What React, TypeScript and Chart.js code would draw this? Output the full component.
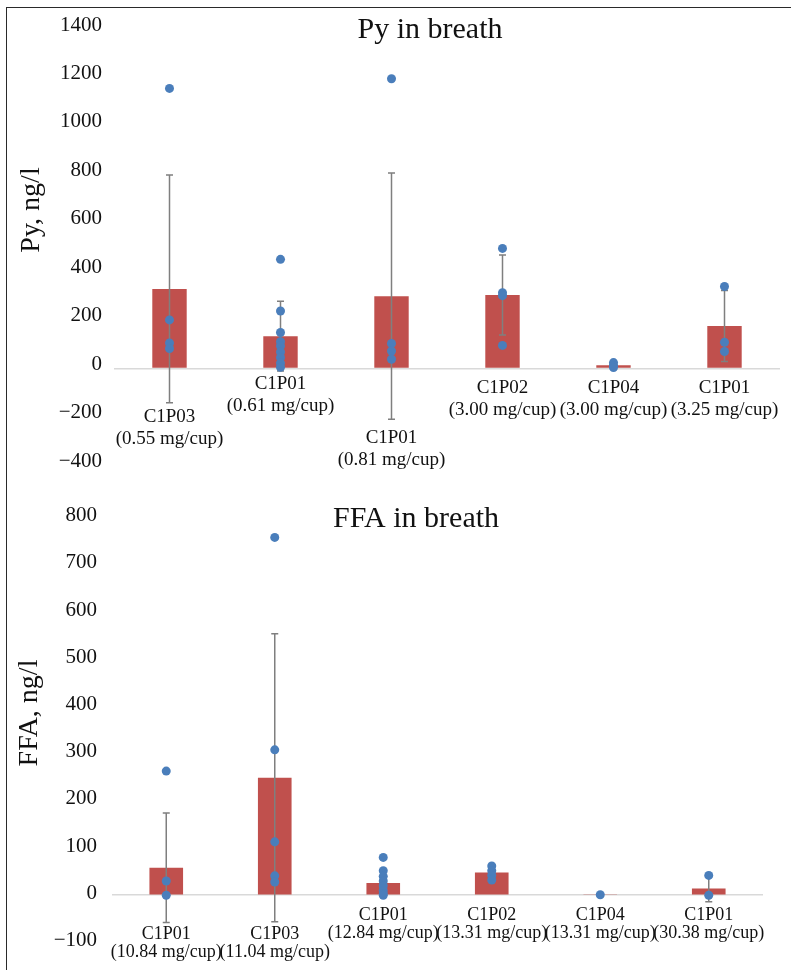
import React, { useEffect, useRef } from "react";
import { Chart, registerables } from "chart.js";

Chart.register(...registerables);

// ---------- data ----------
const pyCodes = ["C1P03", "C1P01", "C1P01", "C1P02", "C1P04", "C1P01"];
const pyDoses = ["(0.55 mg/cup)", "(0.61 mg/cup)", "(0.81 mg/cup)", "(3.00 mg/cup)", "(3.00 mg/cup)", "(3.25 mg/cup)"];
const pyMeans = [328, 133, 298, 303, 13, 175];
const pySd = [470, 144, 508, 165, 10, 146];
const pyPoints = [
  [1155, 200, 105, 82],
  [450, 237, 148, 110, 92, 68, 45, 22, 5],
  [1195, 103, 72, 38],
  [495, 312, 300, 95],
  [24, 12, 4],
  [338, 108, 70],
];
const pyTicks = { min: -400, max: 1400, step: 200 };

const ffaCodes = ["C1P01", "C1P03", "C1P01", "C1P02", "C1P04", "C1P01"];
const ffaDoses = ["(10.84 mg/cup)", "(11.04 mg/cup)", "(12.84 mg/cup)", "(13.31 mg/cup)", "(13.31 mg/cup)", "(30.38 mg/cup)"];
const ffaMeans = [58, 249, 26, 48, 1, 14];
const ffaSd = [116, 305, 25, 15, 1, 28];
const ffaPoints = [
  [263, 30, 0],
  [758, 308, 113, 41, 28],
  [80, 52, 40, 30, 20, 10, 3, 0],
  [62, 52, 42, 32],
  [1],
  [42, 0],
];
const ffaTicks = { min: -100, max: 800, step: 100 };

// ---------- styles ----------
const FONT = '"Liberation Serif", "DejaVu Serif", "Times New Roman", serif';
const TEXT = "#111111";
const BAR = "#C0504D";
const DOT = "#4A7EBB";
const ERR = "#7f7f7f";
const ZERO = "#d9d9d9";

type PanelCfg = {
  codes: string[];
  doses: string[];
  means: number[];
  sd: number[];
  points: number[][];
  ticks: { min: number; max: number; step: number };
  title: string;
  yTitle: string;
  height: number;
  padTop: number;
  padBottom: number;
  padRight: number;
  axisWidth: number;
  tickPad: number;
  tickShift: number;
  titleX: number;
  titleY: number;
  yTitleX: number;
  yTitleY: number;
  labelOffsets: number[];
  labelFont: number;
  labelLine: number;
};

function makeOverlay(cfg: PanelCfg) {
  return {
    id: "overlay",
    afterDatasetDraw(chart: any, args: any) {
      if (args.index !== 0) return;
      const ctx = chart.ctx;
      const y = chart.scales.y;
      const meta = args.meta;
      ctx.save();
      ctx.strokeStyle = ERR;
      ctx.lineWidth = 1.5;
      cfg.sd.forEach((s, i) => {
        const m = cfg.means[i];
        const x = meta.data[i].x;
        const yt = y.getPixelForValue(m + s);
        const yb = y.getPixelForValue(m - s);
        ctx.beginPath();
        ctx.moveTo(x, yt);
        ctx.lineTo(x, yb);
        ctx.moveTo(x - 3.5, yt);
        ctx.lineTo(x + 3.5, yt);
        ctx.moveTo(x - 3.5, yb);
        ctx.lineTo(x + 3.5, yb);
        ctx.stroke();
      });
      ctx.restore();
    },
    afterDraw(chart: any) {
      const ctx = chart.ctx;
      const xs = chart.scales.x;
      const ys = chart.scales.y;
      ctx.save();
      ctx.fillStyle = TEXT;
      ctx.font = `30px ${FONT}`;
      ctx.textAlign = "center";
      ctx.textBaseline = "alphabetic";
      ctx.fillText(cfg.title, cfg.titleX, cfg.titleY);
      ctx.save();
      ctx.translate(cfg.yTitleX, cfg.yTitleY);
      ctx.rotate(-Math.PI / 2);
      ctx.font = `28px ${FONT}`;
      ctx.textBaseline = "middle";
      ctx.fillText(cfg.yTitle, 0, 0);
      ctx.restore();
      const y0 = ys.getPixelForValue(0);
      ctx.font = `${cfg.labelFont}px ${FONT}`;
      ctx.textBaseline = "middle";
      ctx.textAlign = "center";
      cfg.codes.forEach((c, i) => {
        const x = xs.getPixelForValue(i);
        const ly = y0 + cfg.labelOffsets[i];
        ctx.fillText(c, x, ly);
        ctx.fillText(cfg.doses[i], x, ly + cfg.labelLine);
      });
      ctx.restore();
    },
  };
}

function Panel({ cfg }: { cfg: PanelCfg }) {
  const ref = useRef<HTMLCanvasElement | null>(null);
  useEffect(() => {
    if (!ref.current) return;
    const labels = cfg.codes.map((c, i) => `${c} ${cfg.doses[i]}`);
    const scatter: { x: string; y: number }[] = [];
    cfg.points.forEach((arr, i) => arr.forEach((v) => scatter.push({ x: labels[i], y: v })));
    const chart = new Chart(ref.current, {
      type: "bar",
      data: {
        labels,
        datasets: [
          {
            type: "bar",
            data: cfg.means,
            backgroundColor: BAR,
            borderWidth: 0,
            barPercentage: 0.31,
            categoryPercentage: 1,
            order: 2,
          } as any,
          {
            type: "scatter",
            data: scatter,
            backgroundColor: DOT,
            borderWidth: 0,
            pointRadius: 4.5,
            order: 1,
          } as any,
        ],
      },
      options: {
        animation: false,
        responsive: false,
        devicePixelRatio: 1,
        layout: { padding: { top: cfg.padTop, bottom: cfg.padBottom, right: cfg.padRight, left: 0 } },
        plugins: { legend: { display: false }, tooltip: { enabled: false }, title: { display: false } },
        scales: {
          x: { type: "category", display: false, offset: true, grid: { display: false } },
          y: {
            type: "linear",
            min: cfg.ticks.min,
            max: cfg.ticks.max,
            border: { display: false },
            grid: {
              drawTicks: false,
              lineWidth: 1.5,
              color: (c: any) => (c.tick && c.tick.value === 0 ? ZERO : "rgba(0,0,0,0)"),
            },
            ticks: {
              stepSize: cfg.ticks.step,
              padding: cfg.tickPad,
              labelOffset: cfg.tickShift,
              color: TEXT,
              font: { family: FONT, size: 21 },
              callback: (v: any) => (Number(v) < 0 ? "\u2212" + Math.abs(Number(v)) : String(v)),
            },
            afterFit: (s: any) => {
              s.width = cfg.axisWidth;
            },
          },
        },
      },
      plugins: [makeOverlay(cfg)],
    } as any);
    return () => chart.destroy();
  }, [cfg]);
  return <canvas ref={ref} width={791} height={cfg.height} style={{ display: "block", width: 791, height: cfg.height }} />;
}

const topCfg: PanelCfg = {
  codes: pyCodes,
  doses: pyDoses,
  means: pyMeans,
  sd: pySd,
  points: pyPoints,
  ticks: pyTicks,
  title: "Py in breath",
  yTitle: "Py, ng/l",
  height: 490,
  padTop: 29,
  padBottom: 12,
  padRight: 11,
  axisWidth: 114,
  tickPad: 12,
  tickShift: -4,
  titleX: 430,
  titleY: 38,
  yTitleX: 32,
  yTitleY: 210,
  labelOffsets: [49, 16, 70, 20, 20, 20],
  labelFont: 19,
  labelLine: 22,
};

const bottomCfg: PanelCfg = {
  codes: ffaCodes,
  doses: ffaDoses,
  means: ffaMeans,
  sd: ffaSd,
  points: ffaPoints,
  ticks: ffaTicks,
  title: "FFA in breath",
  yTitle: "FFA, ng/l",
  height: 480,
  padTop: 25,
  padBottom: 21,
  padRight: 28,
  axisWidth: 112,
  tickPad: 15,
  tickShift: -2,
  titleX: 416,
  titleY: 37,
  yTitleX: 30,
  yTitleY: 223,
  labelOffsets: [39, 39, 20, 20, 20, 20],
  labelFont: 18,
  labelLine: 18.5,
};

export default function App() {
  return (
    <div style={{ position: "absolute", left: 0, top: 0, width: 791, height: 970, background: "#fff", overflow: "hidden" }}>
      <div style={{ position: "absolute", left: 0, top: 0 }}>
        <Panel cfg={topCfg} />
      </div>
      <div style={{ position: "absolute", left: 0, top: 490 }}>
        <Panel cfg={bottomCfg} />
      </div>
      <div
        style={{
          position: "absolute",
          left: 6,
          top: 6.5,
          width: 791,
          height: 970,
          borderLeft: "1.5px solid #2a2a2a",
          borderTop: "1.5px solid #2a2a2a",
          pointerEvents: "none",
        }}
      />
    </div>
  );
}
